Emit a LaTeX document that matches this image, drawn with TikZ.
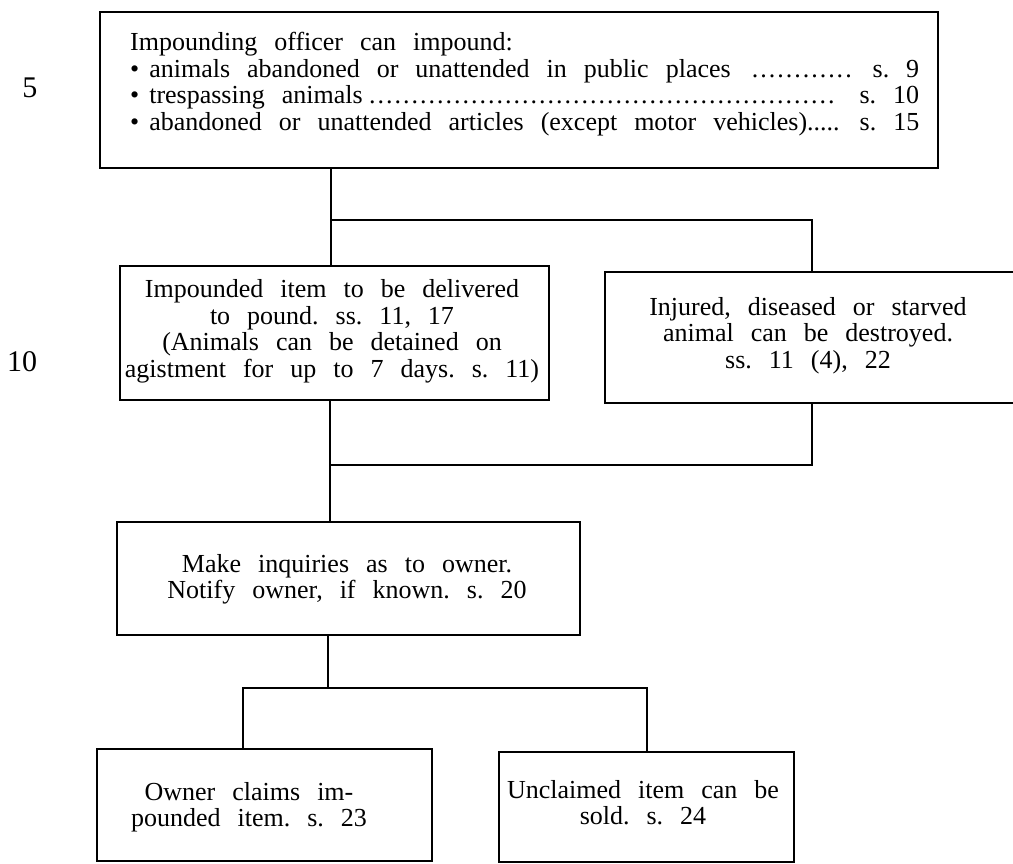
\documentclass[tikz,border=0pt]{standalone}
\usepackage{fontspec}
\setmainfont{Liberation Serif}
\newcommand{\bodyfont}{\fontsize{26}{26.5}\selectfont\spaceskip=17pt plus 6pt minus 2pt\xspaceskip=17pt plus 6pt minus 2pt}
\newcommand{\dotlead}{\leaders\hbox to 8.5pt{\hss.\hss}\hfill}
\tikzset{
  box/.style={draw, line width=2pt, inner sep=0pt},
  txt/.style={inner sep=0pt, font=\bodyfont, anchor=base},
  conn/.style={line width=2pt},
  margin/.style={inner sep=0pt, font=\fontsize{30}{32}\selectfont}
}
\begin{document}
\begin{tikzpicture}[x=1pt,y=-1pt]
\fill[white] (0,0) rectangle (1013,864);
\useasboundingbox (0,0) rectangle (1013,864);
\clip (0,0) rectangle (1013,864);

% boxes
\node[box, minimum width=838pt, minimum height=156pt] (top) at (519,90) {};
\node[box, minimum width=429pt, minimum height=134pt] (deliv) at (334.5,333) {};
\node[box, minimum width=420pt, minimum height=131pt] (inj) at (815,337.5) {};
\node[box, minimum width=463pt, minimum height=113pt] (inq) at (348.5,578.5) {};
\node[box, minimum width=335pt, minimum height=112pt] (own) at (264.5,805) {};
\node[box, minimum width=295pt, minimum height=110pt] (uncl) at (646.5,807) {};

% texts
\node[txt, anchor=base west] (ttop) at (130,51) {\parbox[t]{789pt}{%
Impounding officer can impound:\\
\textbullet\hspace{10pt}animals abandoned or unattended in public places \dotlead\ s.~9\\
\textbullet\hspace{10pt}trespassing animals\dotlead\ s.~10\\
\textbullet\hspace{10pt}abandoned or unattended articles (except motor vehicles)..... \hfill s.~15}};
\node[txt] (tdeliv) at (332,298) {\parbox[t]{420pt}{\centering
Impounded item to be delivered\\ to pound. ss.~11, 17\\ (Animals can be detained on\\ agistment for up to 7 days. s.~11)}};
\node[txt] (tinj) at (808,315) {\parbox[t]{390pt}{\centering
Injured, diseased or starved\\ animal can be destroyed.\\ ss.~11 (4), 22}};
\node[txt] (tinq) at (347,572) {\parbox[t]{440pt}{\centering
Make inquiries as to owner.\\ Notify owner, if known. s.~20}};
\node[txt] (town) at (249,800) {\parbox[t]{320pt}{\centering
Owner claims im-\\ pounded item. s.~23}};
\node[txt] (tuncl) at (643,798) {\parbox[t]{285pt}{\centering
Unclaimed item can be\\ sold. s.~24}};

% margin numbers
\node[margin] (m5) at (30,88) {5};
\node[margin] (m10) at (22,362) {10};

% connector coordinates
\coordinate (c1) at (331,0);
\coordinate (c2) at (812,0);
\coordinate (c3) at (329.5,0);
\coordinate (j1) at (331,220);
\coordinate (j2) at (329.5,465);
\coordinate (j3) at (328,688);
\coordinate (b1) at (243,688);
\coordinate (b2) at (647,688);

\draw[conn] (top.south -| c1) -- (deliv.north -| c1);
\draw[conn] (j1) -| (inj.north -| c2);
\draw[conn] (deliv.south -| c3) -- (inq.north -| c3);
\draw[conn] (j2) -| (inj.south -| c2);
\draw[conn] (inq.south -| j3) -- (j3);
\draw[conn] (own.north -| b1) -- (b1) -- (b2) -- (uncl.north -| b2);
\end{tikzpicture}
\end{document}
